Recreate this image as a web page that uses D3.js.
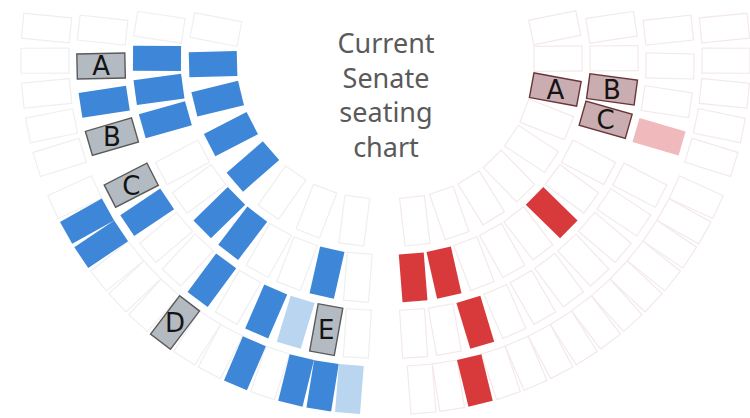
<!DOCTYPE html>
<html>
<head>
<meta charset="utf-8">
<script src="https://cdnjs.cloudflare.com/ajax/libs/d3/7.8.5/d3.min.js"></script>
<style>
body { margin: 0; background: #fff; }
</style>
</head>
<body>
<script>
// seat codes: "." empty, b = dem, l = dem (light), r = rep, p = rep (light), A-E = marked seat
var ringNames = [1, 2, 3, 4];
var leftTop  = [".bb", ".bbb", ".AbB", "....."];
var leftLow  = ["bb...", "..bb..b.", "Cb..b.blE.", ".bb...D..b.bbl"];
var rightTop = ["..A.", "..BC", "...p", "....."];
var rightLow = [".....", "..r...rr", ".......r..", "...........r.."];
var titleLines = ["Current", "Senate", "seating", "chart"];

var width = 750, height = 418;

var svg = d3.select("body")
	.append("svg")
	.attr("width", width)
	.attr("height", height);

// ring index -> distance from the floor centre
var radius = d3.scaleLinear().domain([1, 4]).range([162, 330]);

// angle span of every block, one pair per ring (degrees, screen coords)
var left = {
	cx: 375, cy: 60,
	line: "#eeeff1", markFill: "#b4bac1", markLine: "#5a5a5a",
	blocks: [
		{ rows: leftTop, spans: [[197, 160], [192.7, 160], [190, 160], [188.4, 160]] },
		{ rows: leftLow, spans: [[159.7, 90.4], [156.1, 90.4], [156.1, 90.4], [157.8, 92.1]] }
	]
};
var right = {
	cx: 396, cy: 60,
	line: "#f4e9ea", markFill: "#c9adb1", markLine: "#6a3539",
	blocks: [
		{ rows: rightTop, spans: [[-17, 27], [-12.7, 20], [-10, 20], [-8.4, 20]] },
		{ rows: rightLow, spans: [[27, 89.6], [23.9, 89.6], [23.9, 89.6], [22.2, 87.9]] }
	]
};

var fills = { ".": "#ffffff", b: "#3d86d8", l: "#b9d5f0", r: "#d83a3b", p: "#f0b9bc" };

var seatLen = 48, seatWide = 25;

function seatList(side) {
	var out = [];
	side.blocks.forEach(function(block) {
		block.rows.forEach(function(row, k) {
			var codes = row.split("");
			var angle = d3.scaleBand()
				.domain(d3.range(codes.length))
				.range(block.spans[k]);
			codes.forEach(function(code, i) {
				var a = angle(i) + angle.bandwidth() / 2;
				var r = radius(ringNames[k]);
				var rad = a * Math.PI / 180;
				out.push({
					code: code,
					angle: a,
					x: side.cx + r * Math.cos(rad),
					y: side.cy + r * Math.sin(rad)
				});
			});
		});
	});
	// empty outlines go underneath
	out.sort(function(p, q) { return (p.code != ".") - (q.code != "."); });
	return out;
}

function drawSide(side) {
	var seats = svg.append("g").selectAll("g")
		.data(seatList(side))
		.enter()
		.append("g")
		.attr("transform", function(d) {
			return "translate(" + d.x + "," + d.y + ")";
		});

	seats.append("rect")
		.attr("x", -seatLen / 2)
		.attr("y", -seatWide / 2)
		.attr("width", seatLen)
		.attr("height", seatWide)
		.attr("transform", function(d) { return "rotate(" + d.angle + ")"; })
		.attr("fill", function(d) {
			return fills[d.code] || side.markFill;
		})
		.attr("stroke", function(d) {
			if (d.code == ".") return side.line;
			if (fills[d.code]) return "none";
			return side.markLine;
		})
		.attr("stroke-width", function(d) { return d.code == "." ? 1.2 : 1.4; });

	seats.filter(function(d) { return !fills[d.code]; })
		.append("text")
		.attr("text-anchor", "middle")
		.attr("dy", "0.36em")
		.style("font-family", "DejaVu Sans, sans-serif")
		.style("font-size", "26px")
		.attr("fill", "#141414")
		.text(function(d) { return d.code; });
}

drawSide(left);
drawSide(right);

// title in the hollow of the fan
var lineY = d3.scaleLinear().domain([0, titleLines.length - 1]).range([53, 157]);
svg.append("g")
	.selectAll("text")
	.data(titleLines)
	.enter()
	.append("text")
	.attr("x", 386)
	.attr("y", function(d, i) { return lineY(i); })
	.attr("text-anchor", "middle")
	.style("font-family", "Noto Sans, sans-serif")
	.style("font-size", "27px")
	.attr("fill", "#5a5a5a")
	.text(function(d) { return d; });
</script>
</body>
</html>
